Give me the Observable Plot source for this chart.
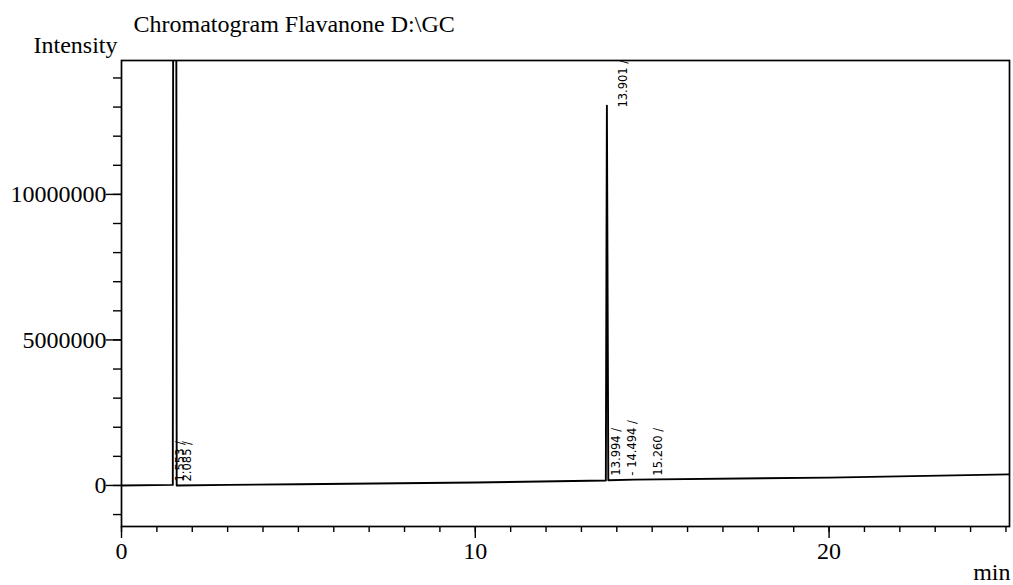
<!DOCTYPE html>
<html>
<head>
<meta charset="utf-8">
<script src="https://cdn.jsdelivr.net/npm/d3@7"></script>
<script src="https://cdn.jsdelivr.net/npm/@observablehq/plot@0.6"></script>
<style>
  html, body { margin: 0; padding: 0; background: #fff; }
  #chart svg { display: block; }
</style>
</head>
<body>
<div id="chart"></div>
<script>
// Chromatogram trace (retention time in min, intensity)
const times = [0, 1.45, 1.47, 1.54, 1.56, 3, 5, 10, 13.69, 13.72, 13.76, 14.5, 20, 25.1];
const intensity = [0, 20000, 30000000, 30000000, 0, 20000, 40000, 100000, 170000, 13050000, 180000, 200000, 270000, 380000];

// Peak retention-time annotations
const peakLabels = ["1.553 /", "2.085 /", "13.994 /", "- 14.494 /", "15.260 /"];
const peakTimes = [1.553, 2.085, 13.994, 14.494, 15.26];
const topLabel = "13.901 /";
const topTime = 13.901;
const topIntensity = 13050000;

// Axis ticks
const yMajor = [0, 5000000, 10000000];
const yMinor = d3.range(-1000000, 15000000, 1000000);
const xMajor = [0, 10, 20];
const xMinor = d3.range(0, 26, 1);

const titleText = "Chromatogram Flavanone D:\\GC";
const yLabel = "Intensity";
const xLabel = "min";

const trace = times.map((t, i) => ({t, v: intensity[i]}));
const labels = peakTimes.map((t, i) => ({t, label: peakLabels[i]}));

const labelFont = "'DejaVu Sans', sans-serif";
const dxs = [4, -8, 0, -2, -3];
const labelMarks = labels.map((d, i) => Plot.text([d], {
  x: "t", y: () => (i < 2 ? 0 : 200000), text: "label",
  rotate: -90, textAnchor: "start", dx: dxs[i], dy: -4,
  fontSize: 11.5, fontFamily: labelFont, fill: "black"
}));

const chart = Plot.plot({
  width: 1013,
  height: 585,
  marginLeft: 121,
  marginRight: 4,
  marginTop: 60,
  marginBottom: 59,
  style: {fontFamily: "'Liberation Serif', serif", fontSize: "24px", background: "white", color: "black"},
  x: {domain: [0, 25.1]},
  y: {domain: [-1410000, 14600000]},
  marks: [
    Plot.axisY(yMinor, {tickSize: 8, text: null, strokeWidth: 1.4, label: null}),
    Plot.axisY(yMajor, {tickSize: 15, tickPadding: 0, strokeWidth: 1.4, tickFormat: d => String(d), label: null, fontSize: 24}),
    Plot.axisX(xMinor, {tickSize: 6, text: null, strokeWidth: 1.4, label: null}),
    Plot.axisX(xMajor, {tickSize: 12, tickPadding: 3, strokeWidth: 1.4, tickFormat: d => String(d), label: null, fontSize: 24}),
    Plot.line(trace, {x: "t", y: "v", stroke: "black", strokeWidth: 1.9, clip: true}),
    ...labelMarks,
    Plot.text([topLabel], {x: () => topTime, y: () => topIntensity, text: d => d, rotate: -90, textAnchor: "start", dx: 10, dy: 2, fontSize: 11.5, fontFamily: labelFont, fill: "black"}),
    Plot.frame({stroke: "black", strokeWidth: 1.7}),
    Plot.text([titleText], {frameAnchor: "top-left", text: d => d, dx: 12, dy: -29, textAnchor: "start", lineAnchor: "bottom", fontSize: 24, fill: "black"}),
    Plot.text([yLabel], {frameAnchor: "top-left", text: d => d, dx: -88, dy: -8, textAnchor: "start", lineAnchor: "bottom", fontSize: 24, fill: "black"}),
    Plot.text([xLabel], {frameAnchor: "bottom-right", text: d => d, dx: 1, dy: 53, textAnchor: "end", lineAnchor: "bottom", fontSize: 24, fill: "black"})
  ]
});
document.getElementById("chart").appendChild(chart);
</script>
</body>
</html>
